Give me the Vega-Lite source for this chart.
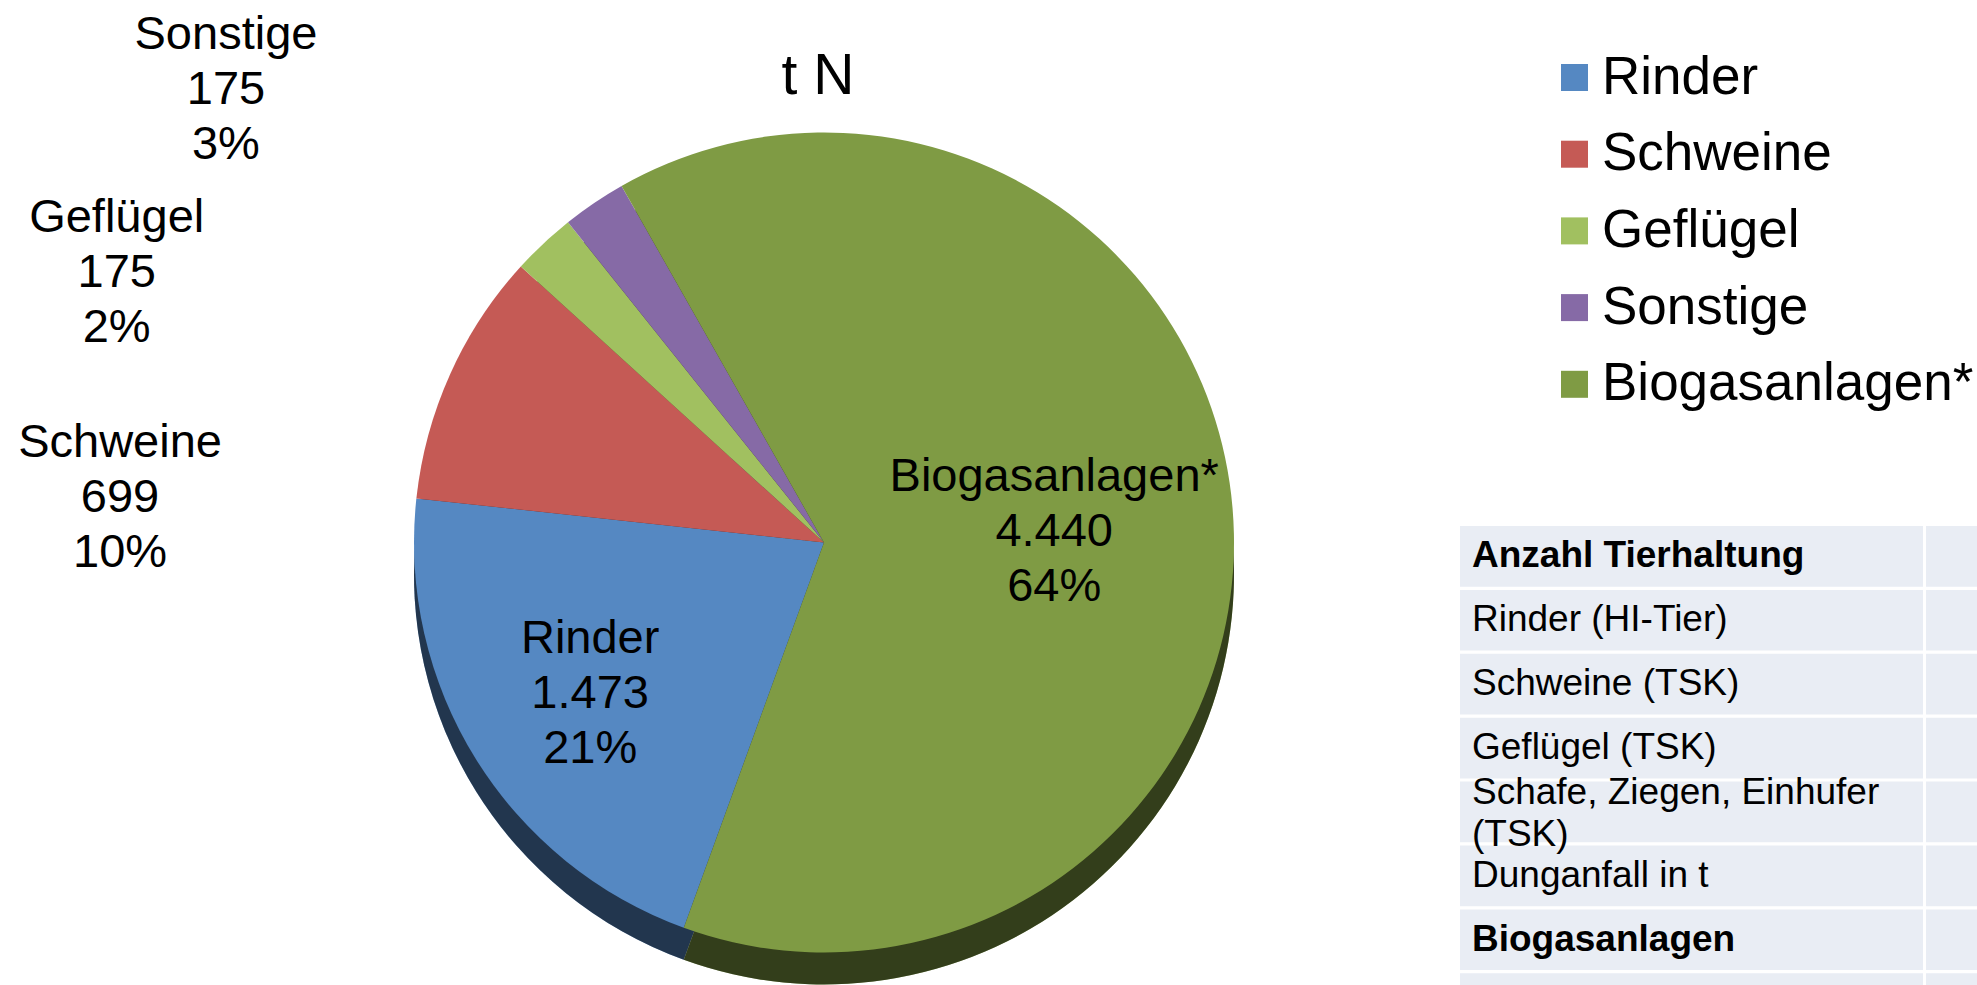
{
  "$schema": "https://vega.github.io/schema/vega-lite/v6.json",
  "width": 1648,
  "height": 985,
  "autosize": {"type": "none"},
  "padding": {"left": 0, "top": 0, "right": 329, "bottom": 0},
  "background": "white",
  "config": {"view": {"stroke": null}, "font": "Liberation Sans"},
  "title": {"text": "t N", "fontSize": 57, "font": "Liberation Sans", "fontWeight": "normal", "color": "black", "anchor": "middle", "frame": "group", "baseline": "alphabetic", "offset": -151, "dx": -6},
  "datasets": {
    "anteile": [
      {"nr": 1, "kategorie": "Rinder", "wert": 1473, "beschriftung": ["Rinder", "1.473", "21%"]},
      {"nr": 2, "kategorie": "Schweine", "wert": 699, "beschriftung": ["Schweine", "699", "10%"]},
      {"nr": 3, "kategorie": "Geflügel", "wert": 175, "beschriftung": ["Geflügel", "175", "2%"]},
      {"nr": 4, "kategorie": "Sonstige", "wert": 175, "beschriftung": ["Sonstige", "175", "3%"]},
      {"nr": 5, "kategorie": "Biogasanlagen*", "wert": 4440, "beschriftung": ["Biogasanlagen*", "4.440", "64%"]}
    ],
    "tabelle": [
      {"zeile": 1, "text": "Anzahl Tierhaltung", "art": "Überschrift"},
      {"zeile": 2, "text": "Rinder (HI-Tier)", "art": "Eintrag"},
      {"zeile": 3, "text": "Schweine (TSK)", "art": "Eintrag"},
      {"zeile": 4, "text": "Geflügel (TSK)", "art": "Eintrag"},
      {"zeile": 5, "text": ["Schafe, Ziegen, Einhufer", "(TSK)"], "art": "Eintrag"},
      {"zeile": 6, "text": "Dunganfall in t", "art": "Eintrag"},
      {"zeile": 7, "text": "Biogasanlagen", "art": "Überschrift"},
      {"zeile": 8, "text": "", "art": "Eintrag"}
    ]
  },
  "layer": [
    {
      "data": {"name": "anteile"},
      "mark": {"type": "arc", "outerRadius": 410, "yOffset": 82},
      "encoding": {
        "theta": {"field": "wert", "type": "quantitative", "stack": true, "scale": {"range": [3.4907, 9.7738]}},
        "order": {"field": "nr", "type": "quantitative"},
        "color": {"field": "kategorie", "type": "nominal"}
      }
    },
    {
      "data": {"name": "anteile"},
      "mark": {"type": "arc", "outerRadius": 410, "yOffset": 82, "color": "black", "opacity": 0.6},
      "encoding": {
        "theta": {"field": "wert", "type": "quantitative", "stack": true, "scale": {"range": [3.4907, 9.7738]}},
        "order": {"field": "nr", "type": "quantitative"}
      }
    },
    {
      "data": {"name": "anteile"},
      "mark": {"type": "arc", "outerRadius": 410, "yOffset": 50},
      "encoding": {
        "theta": {"field": "wert", "type": "quantitative", "stack": true, "scale": {"range": [3.4907, 9.7738]}},
        "order": {"field": "nr", "type": "quantitative"},
        "color": {"field": "kategorie", "type": "nominal",
          "scale": {"domain": ["Rinder", "Schweine", "Geflügel", "Sonstige", "Biogasanlagen*"], "range": ["#5588c2", "#c55a55", "#a1c060", "#866aa6", "#7f9b44"]},
          "legend": {"orient": "none", "legendX": 1548, "legendY": 51, "title": null, "symbolType": "square", "symbolSize": 729, "symbolStrokeWidth": 0, "labelFontSize": 53, "labelFont": "Liberation Sans", "labelColor": "black", "labelOffset": 1, "labelLimit": 0, "rowPadding": 22.7, "padding": 0}}
      }
    },
    {
      "data": {"name": "anteile"},
      "mark": {"type": "text", "radius": 279, "yOffset": 50, "dx": 3, "dy": -51, "fontSize": 47, "lineHeight": 55, "font": "Liberation Sans", "color": "black", "align": "center", "baseline": "middle"},
      "encoding": {
        "theta": {"field": "wert", "type": "quantitative", "stack": true, "scale": {"range": [3.4907, 9.7738]}},
        "order": {"field": "nr", "type": "quantitative"},
        "text": {"condition": {"test": "datum.kategorie === 'Rinder'", "field": "beschriftung", "type": "nominal"}, "value": ""}
      }
    },
    {
      "data": {"name": "anteile"},
      "mark": {"type": "text", "radius": 230, "yOffset": 50, "dx": 1, "dy": -46, "fontSize": 47, "lineHeight": 55, "font": "Liberation Sans", "color": "black", "align": "center", "baseline": "middle"},
      "encoding": {
        "theta": {"field": "wert", "type": "quantitative", "stack": true, "scale": {"range": [3.4907, 9.7738]}},
        "order": {"field": "nr", "type": "quantitative"},
        "text": {"condition": {"test": "datum.kategorie === 'Biogasanlagen*'", "field": "beschriftung", "type": "nominal"}, "value": ""}
      }
    },
    {
      "data": {"name": "anteile"},
      "mark": {"type": "text", "radius": 420, "yOffset": 50, "dx": -321, "dy": 72.5, "fontSize": 47, "lineHeight": 55, "font": "Liberation Sans", "color": "black", "align": "center", "baseline": "middle"},
      "encoding": {
        "theta": {"field": "wert", "type": "quantitative", "stack": true, "scale": {"range": [3.4907, 9.7738]}},
        "order": {"field": "nr", "type": "quantitative"},
        "text": {"condition": {"test": "datum.kategorie === 'Schweine'", "field": "beschriftung", "type": "nominal"}, "value": ""}
      }
    },
    {
      "data": {"name": "anteile"},
      "mark": {"type": "text", "radius": 420, "yOffset": 50, "dx": -420, "dy": -18, "fontSize": 47, "lineHeight": 55, "font": "Liberation Sans", "color": "black", "align": "center", "baseline": "middle"},
      "encoding": {
        "theta": {"field": "wert", "type": "quantitative", "stack": true, "scale": {"range": [3.4907, 9.7738]}},
        "order": {"field": "nr", "type": "quantitative"},
        "text": {"condition": {"test": "datum.kategorie === 'Geflügel'", "field": "beschriftung", "type": "nominal"}, "value": ""}
      }
    },
    {
      "data": {"name": "anteile"},
      "mark": {"type": "text", "radius": 420, "yOffset": 50, "dx": -362.5, "dy": -160, "fontSize": 47, "lineHeight": 55, "font": "Liberation Sans", "color": "black", "align": "center", "baseline": "middle"},
      "encoding": {
        "theta": {"field": "wert", "type": "quantitative", "stack": true, "scale": {"range": [3.4907, 9.7738]}},
        "order": {"field": "nr", "type": "quantitative"},
        "text": {"condition": {"test": "datum.kategorie === 'Sonstige'", "field": "beschriftung", "type": "nominal"}, "value": ""}
      }
    },
    {
      "data": {"name": "tabelle"},
      "mark": {"type": "rect", "color": "#e9edf4"},
      "encoding": {
        "y": {"field": "zeile", "type": "ordinal", "axis": null, "scale": {"type": "band", "range": [526, 1034], "paddingInner": 0.05, "paddingOuter": 0}},
        "x": {"datum": "Merkmal", "type": "nominal", "axis": null, "scale": {"type": "band", "domain": ["Merkmal", "Wert"], "range": [1460, 2389], "paddingInner": 0.0065, "paddingOuter": 0}}
      }
    },
    {
      "data": {"name": "tabelle"},
      "mark": {"type": "rect", "color": "#e9edf4"},
      "encoding": {
        "y": {"field": "zeile", "type": "ordinal", "axis": null},
        "x": {"datum": "Wert", "type": "nominal", "axis": null}
      }
    },
    {
      "data": {"name": "tabelle"},
      "transform": [{"filter": "datum.art === 'Eintrag' && !isArray(datum.text)"}],
      "mark": {"type": "text", "align": "left", "baseline": "middle", "dx": 12, "fontSize": 37, "font": "Liberation Sans", "color": "black"},
      "encoding": {
        "y": {"field": "zeile", "type": "ordinal", "axis": null},
        "x": {"datum": "Merkmal", "type": "nominal", "axis": null, "bandPosition": 0},
        "text": {"field": "text", "type": "nominal"}
      }
    },
    {
      "data": {"name": "tabelle"},
      "transform": [{"filter": "isArray(datum.text)"}],
      "mark": {"type": "text", "align": "left", "baseline": "middle", "dx": 12, "dy": -19, "fontSize": 37, "lineHeight": 42, "font": "Liberation Sans", "color": "black"},
      "encoding": {
        "y": {"field": "zeile", "type": "ordinal", "axis": null},
        "x": {"datum": "Merkmal", "type": "nominal", "axis": null, "bandPosition": 0},
        "text": {"field": "text", "type": "nominal"}
      }
    },
    {
      "data": {"name": "tabelle"},
      "transform": [{"filter": "datum.art === 'Überschrift'"}],
      "mark": {"type": "text", "align": "left", "baseline": "middle", "dx": 12, "fontSize": 37, "fontWeight": "bold", "font": "Liberation Sans", "color": "black"},
      "encoding": {
        "y": {"field": "zeile", "type": "ordinal", "axis": null},
        "x": {"datum": "Merkmal", "type": "nominal", "axis": null, "bandPosition": 0},
        "text": {"field": "text", "type": "nominal"}
      }
    }
  ]
}
